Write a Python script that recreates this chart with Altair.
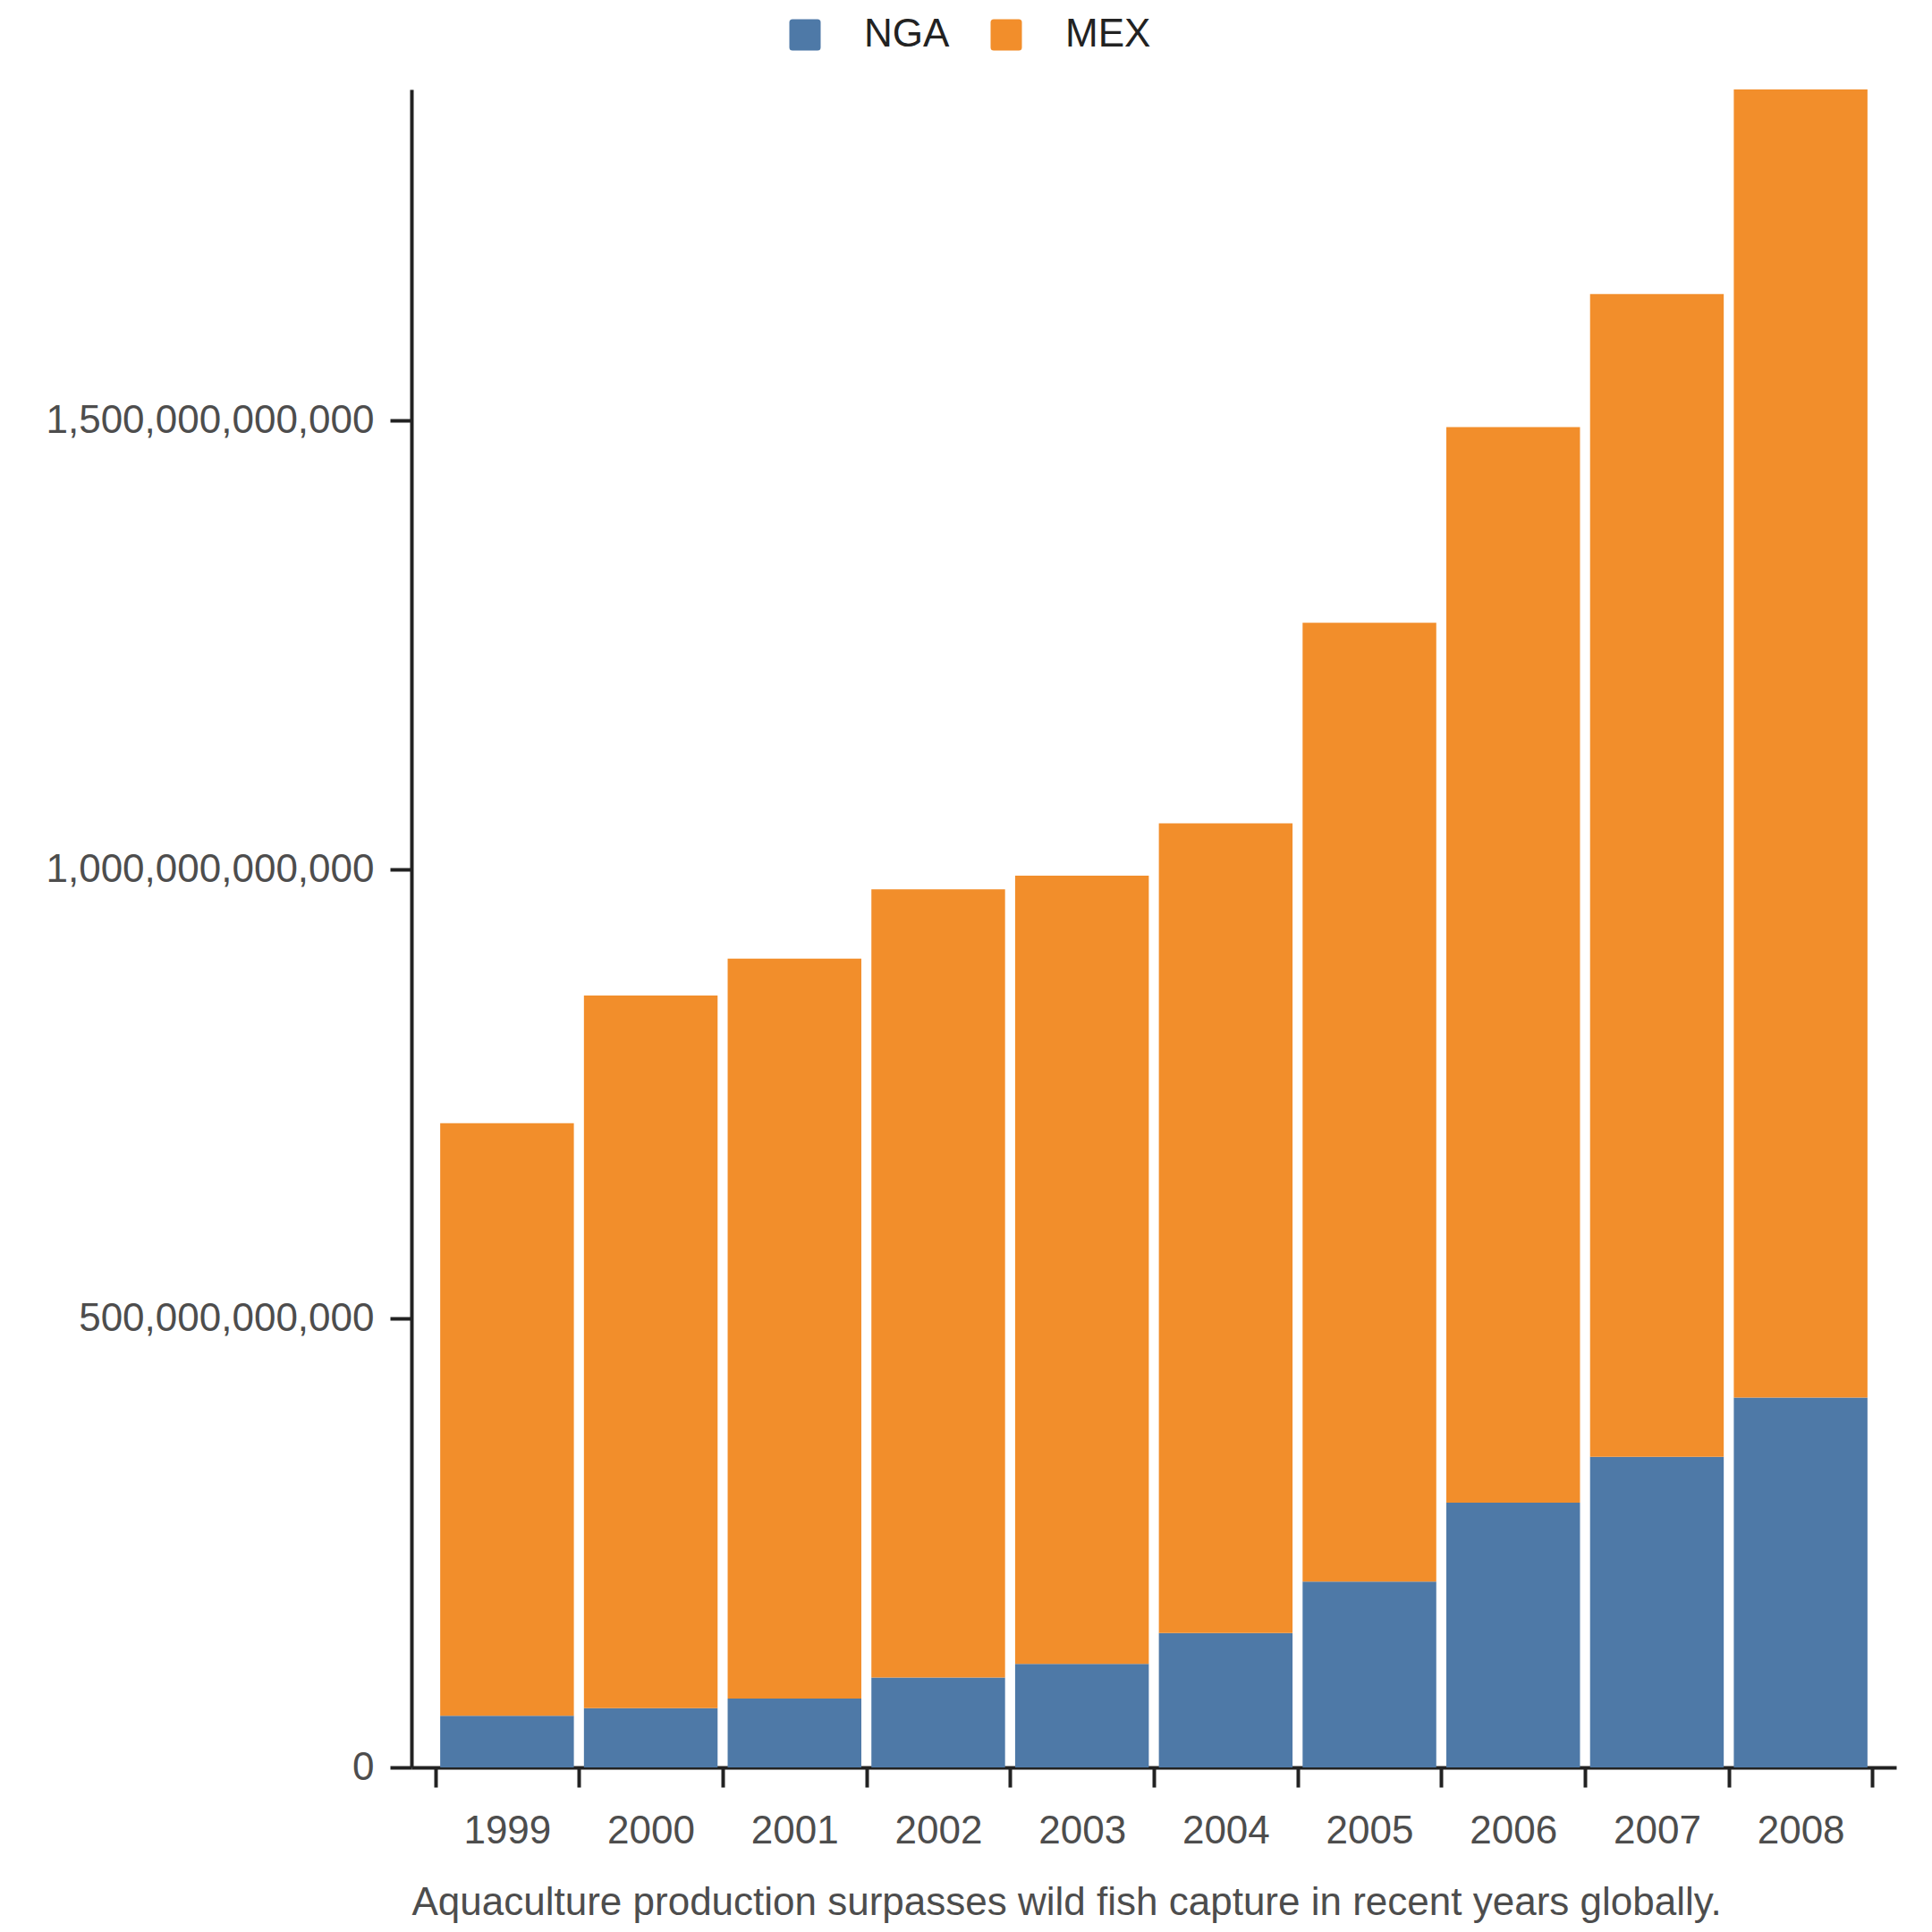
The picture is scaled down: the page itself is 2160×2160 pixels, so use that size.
import altair as alt
import pandas as pd

years = ["1999", "2000", "2001", "2002", "2003", "2004", "2005", "2006", "2007", "2008"]
nga = [57.6e9, 65.9e9, 76.8e9, 100.2e9, 115.2e9, 149.6e9, 207e9, 295e9, 346e9, 412e9]
mex = [660e9, 794e9, 824e9, 878e9, 878e9, 902e9, 1068e9, 1198e9, 1295e9, 1457e9]
series = ["NGA", "MEX"]
colors = ["#4e79a7", "#f28e2b"]
y_ticks = [0, 500e9, 1000e9, 1500e9]
caption = "Aquaculture production surpasses wild fish capture in recent years globally."

rows = []
for i, y in enumerate(years):
    rows.append({"year": y, "country": "NGA", "value": nga[i], "ord": 0})
    rows.append({"year": y, "country": "MEX", "value": mex[i], "ord": 1})
df = pd.DataFrame(rows)
ymax = max(a + b for a, b in zip(nga, mex))

FONT = "Liberation Sans"
FS = 44
rounded = "M-0.8,-1H0.8Q1,-1 1,-0.8V0.8Q1,1 0.8,1H-0.8Q-1,1 -1,0.8V-0.8Q-1,-1 -0.8,-1Z"

W = 1660
P_IN, P_OUT = 0.07, 0.2
step = W / (len(years) - P_IN + 2 * P_OUT)
bw = step * (1 - P_IN)
gap = step * P_IN

chart = alt.Chart(df).mark_bar().encode(
    x=alt.X("year:N", sort=years,
            scale=alt.Scale(paddingInner=P_IN, paddingOuter=P_OUT),
            axis=alt.Axis(title=caption, labelAngle=0,
                          bandPosition=1 + gap / bw, tickExtra=True,
                          tickOffset=-gap / 2, labelOffset=gap / 2,
                          tickSize=22, tickWidth=4, tickColor="#222",
                          domainWidth=4, domainColor="#222",
                          labelFont=FONT, labelFontSize=FS, labelColor="#4d4d4d",
                          labelPadding=27,
                          titleFont=FONT, titleFontSize=FS, titleFontWeight="normal",
                          titleColor="#4d4d4d", titleAlign="left", titleBaseline="alphabetic",
                          titleX=0, titleY=164, titleAnchor="start", titleLimit=0)),
    y=alt.Y("value:Q", stack="zero",
            scale=alt.Scale(domain=[0, ymax], nice=False),
            axis=alt.Axis(title=None, values=y_ticks, format=",.0f", grid=False,
                          tickSize=24, tickWidth=4, tickColor="#222",
                          domainWidth=4, domainColor="#222",
                          labelFont=FONT, labelFontSize=FS, labelColor="#4d4d4d",
                          labelPadding=18, labelLimit=0)),
    color=alt.Color("country:N",
                    scale=alt.Scale(domain=series, range=colors),
                    legend=alt.Legend(title=None, orient="none", direction="horizontal",
                                      legendX=418, legendY=-83, padding=0,
                                      symbolType=rounded, symbolSize=1225,
                                      symbolStrokeWidth=0, symbolOpacity=1,
                                      labelFont=FONT, labelFontSize=FS, labelColor="#222",
                                      labelOffset=44, columnPadding=41)),
    order=alt.Order("ord:Q", sort="ascending"),
).properties(
    width=W, height=1876,
    autosize=alt.AutoSizeParams(type="none"),
    padding={"left": 452, "top": 92, "right": 32, "bottom": 176},
).configure_view(strokeWidth=0)

chart.save("out.html", embed_options={"renderer": "svg", "actions": False})
